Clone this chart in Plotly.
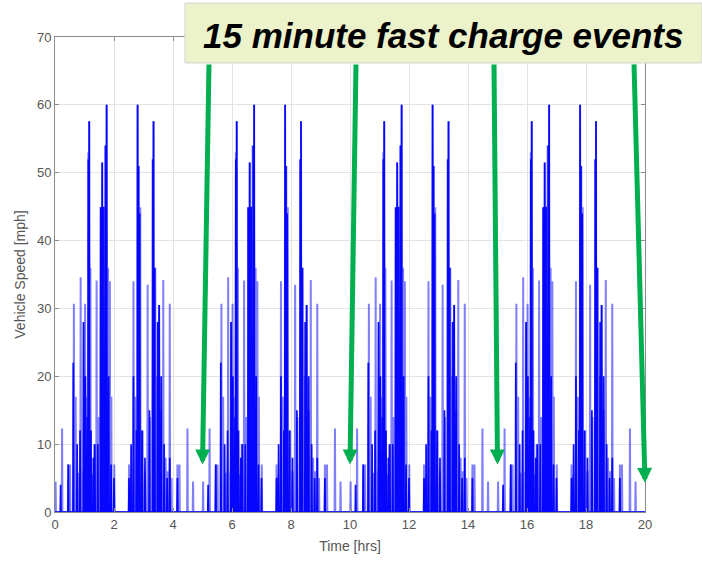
import plotly.graph_objects as go

# ---- data ----
# one 5-hour drive/charge cycle: spike time (hrs from cycle start) and peak speed (mph)
cycle_starts_hrs = [0, 5, 10, 15]
spike_t = [0.02, 0.24, 0.45, 0.51, 0.64, 0.70, 0.78, 0.87, 0.92, 0.97, 1.02, 1.07, 1.13, 1.16,
           1.20, 1.26, 1.33, 1.41, 1.48, 1.55, 1.60, 1.70, 1.75, 1.80, 1.86, 1.91, 2.01,
           2.51, 2.55, 2.66, 2.72, 2.80, 2.84, 2.89, 2.97, 3.05, 3.14, 3.22, 3.34, 3.40, 3.47,
           3.53, 3.60, 3.67, 3.75, 3.82, 3.89, 3.95, 4.15, 4.22, 4.49, 4.68]
spike_mph = [4.5, 12.3, 7, 7, 30.7, 17, 5.8, 34.6, 6, 28, 30.7, 17, 53, 57.6,
             36, 5.5, 10, 34.1, 14, 44.9, 51.5, 54, 60, 36, 34, 17, 7,
             7, 5.5, 34, 17, 60, 51, 44.9, 12, 6, 33.5, 14, 57.6, 36, 20,
             30.5, 15, 34.2, 8, 6, 30.7, 5, 7, 7, 12.3, 4.5]
# densely overlapping parts of the trace (drawn darker)
dense_t = [0.19, 0.45, 0.62, 0.75, 0.85, 0.97, 1.03, 1.10, 1.13, 1.16, 1.22, 1.30, 1.35, 1.45,
           1.55, 1.60, 1.65, 1.72, 1.75, 1.82, 1.90, 2.00,
           2.51, 2.58, 2.66, 2.76, 2.80, 2.83, 2.87, 2.95, 3.05, 3.20, 3.31, 3.34, 3.38, 3.48,
           3.53, 3.60, 3.70, 3.80, 3.89, 4.15]
dense_mph = [4, 7, 22, 10, 12, 28, 20, 14, 52, 57.6, 12, 8, 10, 10,
             44.9, 51.5, 45, 54, 60, 20, 7, 5,
             5, 10, 20, 12, 60, 51, 44, 12, 8, 15, 52, 57.6, 36, 28,
             30.5, 20, 10, 5, 8, 5]
charge_event_hrs = [5, 10, 15, 20]
x_ticks = [0, 2, 4, 6, 8, 10, 12, 14, 16, 18, 20]
y_ticks = [0, 10, 20, 30, 40, 50, 60, 70]
title_text = "15 minute fast charge events"

X_MAX = 20
HW = 0.012


def build_trace(ts, vs):
    xs, ys = [0], [0]
    for s in cycle_starts_hrs:
        for t, v in zip(ts, vs):
            c = s + t
            if c > X_MAX:
                continue
            xs += [c - HW, c, c + HW]
            ys += [0, v, 0]
    xs.append(X_MAX)
    ys.append(0)
    return xs, ys


lx, ly = build_trace(spike_t, spike_mph)
dx, dy = build_trace(dense_t, dense_mph)

fig = go.Figure()
fig.add_trace(go.Scatter(x=lx, y=ly, mode="lines",
                         line=dict(color="rgba(0,0,255,0.5)", width=2),
                         showlegend=False, hoverinfo="skip"))
fig.add_trace(go.Scatter(x=dx, y=dy, mode="lines",
                         line=dict(color="rgba(0,0,255,0.95)", width=1.7),
                         showlegend=False, hoverinfo="skip"))

font_family = "Liberation Sans, Arial, sans-serif"
axis_common = dict(showgrid=True, gridcolor="#e3e3e3", gridwidth=1,
                   showline=True, linecolor="#8c8c8c", linewidth=1, mirror="ticks",
                   ticks="inside", ticklen=4, tickcolor="#8c8c8c",
                   tickfont=dict(family=font_family, size=13, color="#555555"),
                   zeroline=False, automargin=False)

fig.update_layout(
    width=702, height=561,
    margin=dict(l=55, r=57, t=37, b=49),
    paper_bgcolor="white", plot_bgcolor="white",
    xaxis=dict(range=[0, X_MAX], tickvals=x_ticks, **axis_common,
               title=dict(text="Time [hrs]", standoff=10,
                          font=dict(family=font_family, size=14, color="#555555"))),
    yaxis=dict(range=[0, 70], tickvals=y_ticks, **axis_common,
               title=dict(text="Vehicle Speed [mph]", standoff=8,
                          font=dict(family=font_family, size=14, color="#555555"))),
)

# callout box
fig.add_shape(type="rect", xref="paper", yref="paper",
              x0=0.2203, x1=1.0966, y0=0.9453, y1=1.0716,
              fillcolor="#ECF2C9", line=dict(color="#d4d4d4", width=1), layer="above")

# green arrows to each charge event
arrow_tip_mph = [7, 7, 7, 4.3]
arrow_dx = [6.5, 6, -3.5, -11]
arrow_dy = [-401.5, -401.5, -401.5, -420]
for t, ymph, ax, ay in zip(charge_event_hrs, arrow_tip_mph, arrow_dx, arrow_dy):
    fig.add_annotation(x=t, y=ymph, xref="x", yref="y", ax=ax, ay=ay,
                       axref="pixel", ayref="pixel", text="", showarrow=True,
                       arrowhead=2, arrowsize=0.6, arrowwidth=5, arrowcolor="#00B050")

fig.add_annotation(x=0.6576, y=1.004, xref="paper", yref="paper",
                   text="<b><i>" + title_text + "</i></b>", showarrow=False,
                   font=dict(family=font_family, size=35, color="black"),
                   xanchor="center", yanchor="middle")

fig.write_html("out.html",
               config={"displayModeBar": False},
               post_script="document.body.style.margin='0px';"
                           "document.body.style.overflow='hidden';")
